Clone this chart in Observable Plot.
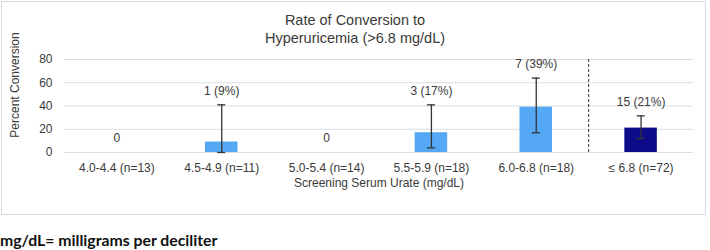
<!DOCTYPE html>
<html>
<head>
<meta charset="utf-8">
<script src="https://cdn.jsdelivr.net/npm/d3@7"></script>
<script src="https://cdn.jsdelivr.net/npm/@observablehq/plot@0.6"></script>
<style>
  html, body { margin: 0; padding: 0; background: #fff; }
  #wrap { position: relative; width: 710px; height: 250px; overflow: hidden; font-family: "Liberation Sans", Arial, sans-serif; }
  #box { position: absolute; left: 1px; top: 1px; width: 703px; height: 212px; border: 1px solid #d5dadd; }
  #title { position: absolute; left: 0; top: 12px; width: 710px; text-align: center; font-size: 14.5px; line-height: 17.6px; color: #3a3a3a; }
  #chart { position: absolute; left: 0; top: 0; }
  #note { position: absolute; left: 0; top: 231px; font-family: Lato, "Noto Sans", sans-serif; font-weight: 700; font-size: 15.8px; line-height: 17px; color: #111; white-space: nowrap; }
</style>
</head>
<body>
<div id="wrap">
  <div id="box"></div>
  <div id="chart"></div>
  <div id="title">Rate of Conversion to<br>Hyperuricemia (&gt;6.8 mg/dL)</div>
  <div id="note">mg/dL= milligrams per deciliter</div>
</div>
<script>
const categories = ["4.0-4.4 (n=13)", "4.5-4.9 (n=11)", "5.0-5.4 (n=14)", "5.5-5.9 (n=18)", "6.0-6.8 (n=18)", "≤ 6.8 (n=72)"];
const percent = [0, 9, 0, 17, 39, 21];
const ciLow = [null, 0, null, 4, 17, 12];
const ciHigh = [null, 41, null, 41, 64, 31.5];
const valueLabels = ["0", "1 (9%)", "0", "3 (17%)", "7 (39%)", "15 (21%)"];
const groups = ["range", "range", "range", "range", "range", "overall"];
const yTicks = [0, 20, 40, 60, 80];

const data = categories.map((c, i) => ({
  cat: c, pct: percent[i], lo: ciLow[i], hi: ciHigh[i], label: valueLabels[i], group: groups[i],
  labelY: ciHigh[i] != null ? ciHigh[i] : percent[i]
}));
const errData = data.filter(d => d.hi != null);

const W = 710, H = 216, mL = 64, mR = 17, mT = 59, mB = 64;
const padInner = 0.69, padOuter = 0.345;
const xs = Plot.scale({x: {type: "band", domain: categories, range: [mL, W - mR], paddingInner: padInner, paddingOuter: padOuter, round: false}});
const step = xs.step != null ? xs.step : (W - mL - mR) / categories.length;
const bw = xs.bandwidth != null ? xs.bandwidth : step * (1 - padInner);
const capInset = (bw - 8) / 2;
const textColor = "#3a3a3a";

const plot = Plot.plot({
  width: W, height: H,
  marginLeft: mL, marginRight: mR, marginTop: mT, marginBottom: mB,
  style: {fontFamily: "'Liberation Sans', Arial, sans-serif", fontSize: "12px", color: textColor, background: "transparent"},
  x: {type: "band", domain: categories, paddingInner: padInner, paddingOuter: padOuter, round: false},
  y: {domain: [0, 80]},
  color: {domain: ["range", "overall"], range: ["#55a9f4", "#0c0c8a"]},
  marks: [
    Plot.gridY(yTicks, {stroke: "#d9dee2", strokeOpacity: 1, strokeWidth: 1}),
    Plot.axisY({ticks: yTicks, tickSize: 0, tickPadding: 12, label: null, fontSize: 12, fill: textColor}),
    Plot.axisX({tickSize: 0, tickPadding: 11, label: null, fontSize: 12, fill: textColor}),
    Plot.barY(data, {x: "cat", y: "pct", fill: "group"}),
    Plot.ruleX([categories[5]], {y1: 0, y2: 80, dx: -step / 2, stroke: "#333", strokeWidth: 1, strokeDasharray: "3,2"}),
    Plot.ruleX(errData, {x: "cat", y1: "lo", y2: "hi", stroke: "#333", strokeWidth: 1.3}),
    Plot.tickY(errData, {x: "cat", y: "hi", stroke: "#333", strokeWidth: 1.3, insetLeft: capInset, insetRight: capInset}),
    Plot.tickY(errData, {x: "cat", y: "lo", stroke: "#333", strokeWidth: 1.3, insetLeft: capInset, insetRight: capInset}),
    Plot.text(data, {x: "cat", y: "labelY", text: "label", dy: -14, fontSize: 12, fill: textColor}),
    Plot.text(["Percent Conversion"], {frameAnchor: "left", textAnchor: "middle", lineAnchor: "middle", dx: -49, dy: -21, rotate: -90, fontSize: 12, fill: textColor}),
    Plot.text(["Screening Serum Urate (mg/dL)"], {frameAnchor: "bottom", textAnchor: "middle", lineAnchor: "middle", dy: 31, fontSize: 12, fill: textColor})
  ]
});
document.getElementById("chart").appendChild(plot);
</script>
</body>
</html>
